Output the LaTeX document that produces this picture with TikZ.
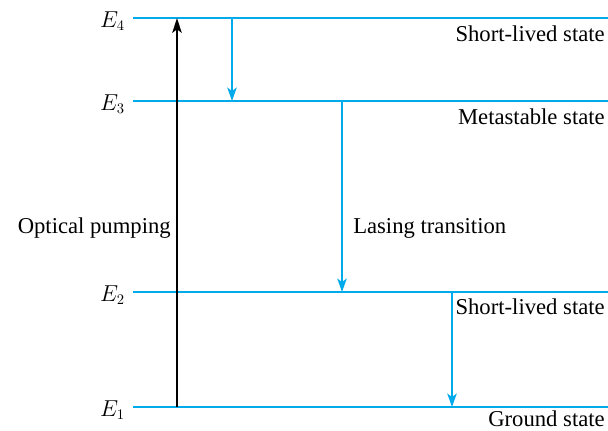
\documentclass[tikz,border=0pt]{standalone}
\usepackage{fontspec}
\setmainfont{Liberation Serif}
\usetikzlibrary{arrows.meta}
\definecolor{lev}{RGB}{0,170,235}
\begin{document}
\begin{tikzpicture}[x=0.75pt,y=-0.75pt,
  level/.style={draw=lev,line width=1.6pt},
  decay/.style={draw=lev,line width=1.6pt,-{Stealth[length=10pt,width=7pt,inset=2.5pt]}},
  pump/.style={draw=black,line width=2pt,-{Stealth[length=11pt,width=7pt,inset=2.5pt]}},
  lbl/.style={font=\fontsize{17}{19}\selectfont,inner sep=0pt},
  elbl/.style={font=\fontsize{16}{18}\selectfont,inner sep=0pt,anchor=east}]
\useasboundingbox (0,0) rectangle (608,430);
% levels
\coordinate (L4a) at (133,18);  \coordinate (L4b) at (608,18);
\coordinate (L3a) at (133,101); \coordinate (L3b) at (608,101);
\coordinate (L2a) at (133,292); \coordinate (L2b) at (608,292);
\coordinate (L1a) at (133,407); \coordinate (L1b) at (608,407);
\draw[level] (L4a) -- (L4b);
\draw[level] (L3a) -- (L3b);
\draw[level] (L2a) -- (L2b);
\draw[level] (L1a) -- (L1b);
% energy labels
\node[elbl] (e4) at (125,21) {$E_4$};
\node[elbl] (e3) at (125,104) {$E_3$};
\node[elbl] (e2) at (125,295) {$E_2$};
\node[elbl] (e1) at (125,410) {$E_1$};
% state labels
\node[lbl,anchor=east] (s4) at (605,34) {Short-lived state};
\node[lbl,anchor=east] (s3) at (605,117) {Metastable state};
\node[lbl,anchor=east] (s2) at (605,307) {Short-lived state};
\node[lbl,anchor=east] (s1) at (605,419) {Ground state};
% arrows
\coordinate (p1) at (177,407); \coordinate (p4) at (177,18);
\draw[pump] (p1) -- (p4);
\coordinate (a4) at (232,18); \coordinate (a3) at (232,101);
\draw[decay] (a4) -- (a3);
\coordinate (b3) at (342,101); \coordinate (b2) at (342,292);
\draw[decay] (b3) -- (b2);
\coordinate (c2) at (452,292); \coordinate (c1) at (452,407);
\draw[decay] (c2) -- (c1);
\node[lbl,anchor=east] (op) at (171,228) {Optical pumping};
\node[lbl,anchor=west] (lt) at (353,228) {Lasing transition};
\end{tikzpicture}
\end{document}
